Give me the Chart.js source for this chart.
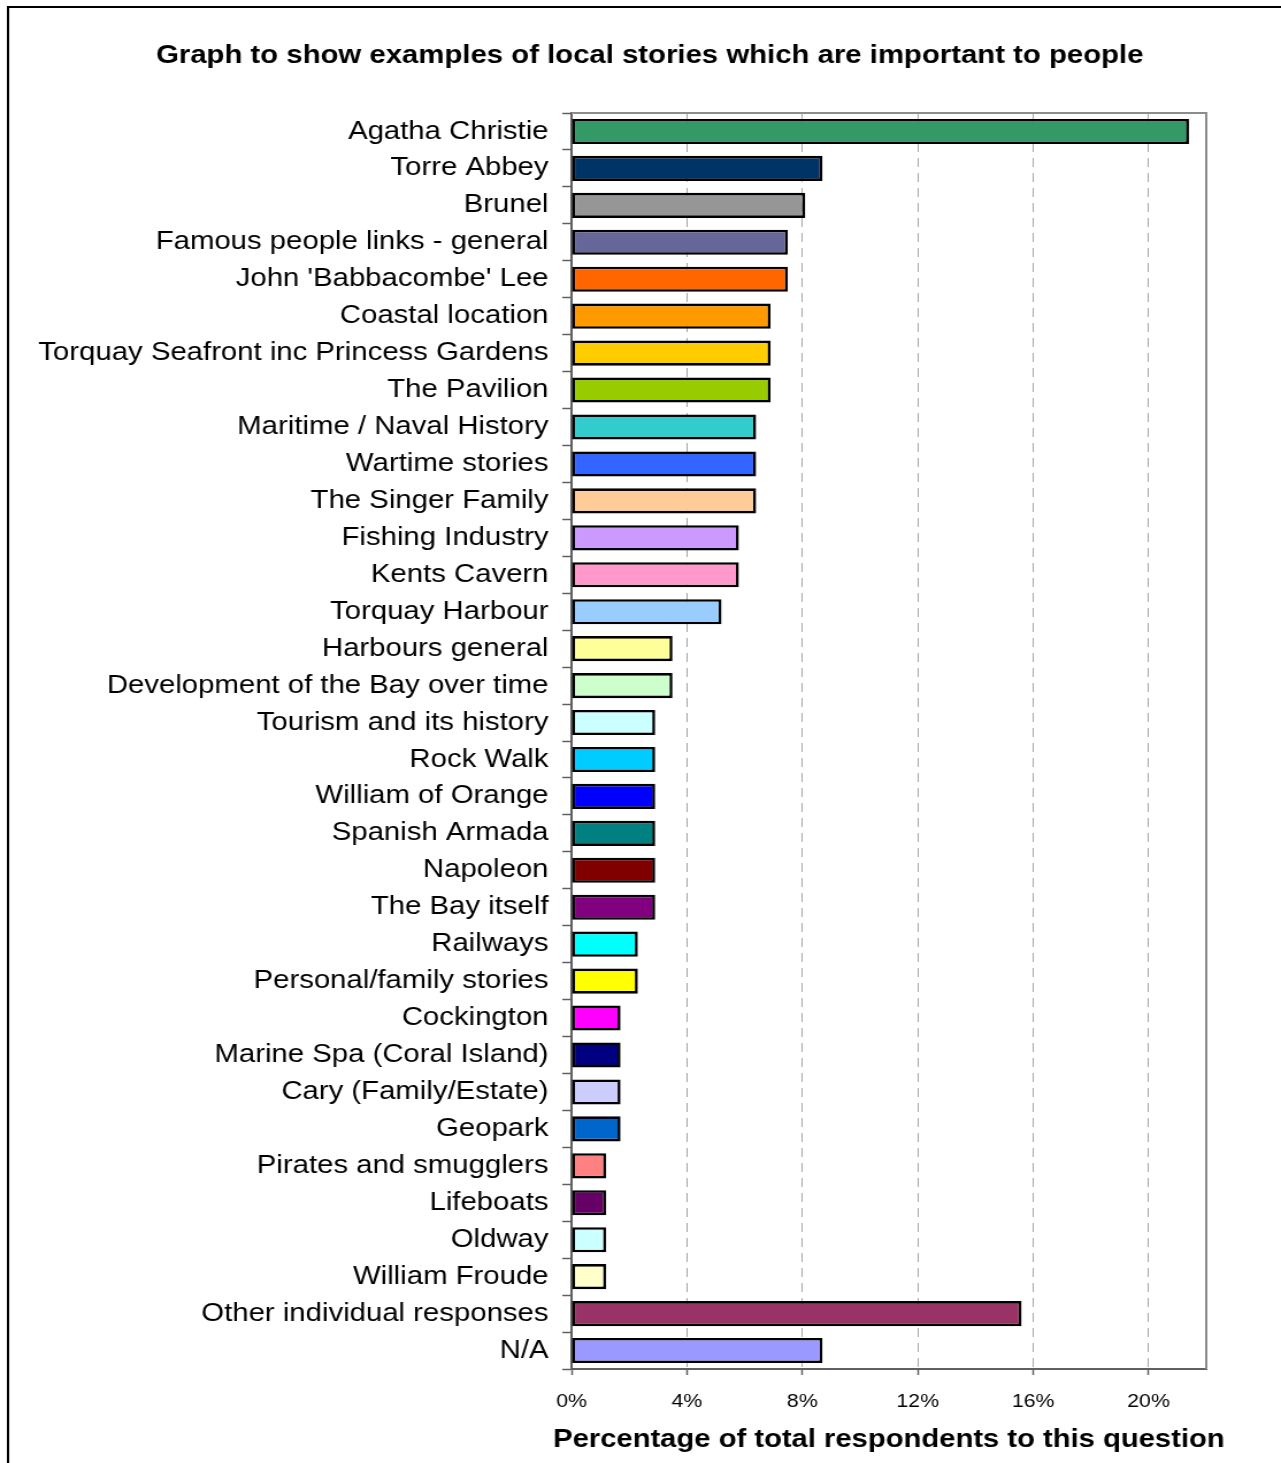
<!DOCTYPE html>
<html>
<head>
<meta charset="utf-8">
<title>Local stories</title>
<script src="https://cdn.jsdelivr.net/npm/chart.js@4/dist/chart.umd.min.js"></script>
<style>
  html, body { margin: 0; padding: 0; background: #fff; overflow: hidden; }
  #grafico { position: absolute; left: 0; top: 0; }
</style>
</head>
<body>
<!-- the original picture is a bit stretched sideways, so the canvas is drawn narrower and stretched -->
<canvas id="grafico" width="1114" height="1463" style="width:1281px;height:1463px"></canvas>
<script>
// Dados do gráfico
const categorias = [
  'Agatha Christie', 'Torre Abbey', 'Brunel', 'Famous people links - general',
  "John 'Babbacombe' Lee", 'Coastal location', 'Torquay Seafront inc Princess Gardens',
  'The Pavilion', 'Maritime / Naval History', 'Wartime stories', 'The Singer Family',
  'Fishing Industry', 'Kents Cavern', 'Torquay Harbour', 'Harbours general',
  'Development of the Bay over time', 'Tourism and its history', 'Rock Walk',
  'William of Orange', 'Spanish Armada', 'Napoleon', 'The Bay itself', 'Railways',
  'Personal/family stories', 'Cockington', 'Marine Spa (Coral Island)',
  'Cary (Family/Estate)', 'Geopark', 'Pirates and smugglers', 'Lifeboats', 'Oldway',
  'William Froude', 'Other individual responses', 'N/A'
];

const percentuais = [
  21.4, 8.7, 8.1, 7.5, 7.5, 6.9, 6.9, 6.9, 6.4, 6.4, 6.4, 5.8, 5.8, 5.2, 3.5, 3.5,
  2.9, 2.9, 2.9, 2.9, 2.9, 2.9, 2.3, 2.3, 1.7, 1.7, 1.7, 1.7, 1.2, 1.2, 1.2, 1.2,
  15.6, 8.7
];

const cores = [
  '#339966', '#003366', '#969696', '#666699', '#FF6600', '#FF9900', '#FFCC00', '#99CC00',
  '#33CCCC', '#3366FF', '#FFCC99', '#CC99FF', '#FF99CC', '#99CCFF', '#FFFF99', '#CCFFCC',
  '#CCFFFF', '#00CCFF', '#0000FF', '#008080', '#800000', '#800080', '#00FFFF', '#FFFF00',
  '#FF00FF', '#000080', '#CCCCFF', '#0066CC', '#FF8080', '#660066', '#CCFFFF', '#FFFFCC',
  '#993366', '#9999FF'
];

const ticksX = [0, 4, 8, 12, 16, 20];

const tituloGrafico = 'Graph to show examples of local stories which are important to people';
const tituloEixoX = 'Percentage of total respondents to this question';

const fonte = '"Liberation Sans", Arial, sans-serif';

// Moldura externa, títulos e borda da área do gráfico
const molduraPlugin = {
  id: 'moldura',
  beforeDatasetsDraw(chart) {
    const ctx = chart.ctx;
    const area = chart.chartArea;
    ctx.save();
    ctx.strokeStyle = '#8c8c8c';
    ctx.lineWidth = 2;
    ctx.beginPath();
    ctx.moveTo(area.left, area.top);
    ctx.lineTo(area.right, area.top);
    ctx.lineTo(area.right, area.bottom);
    ctx.stroke();
    ctx.restore();
  },
  afterDraw(chart) {
    const ctx = chart.ctx;
    const area = chart.chartArea;
    ctx.save();
    ctx.strokeStyle = '#000';
    ctx.lineWidth = 2;
    ctx.beginPath();
    ctx.moveTo(7, chart.height + 10);
    ctx.lineTo(7, 7);
    ctx.lineTo(chart.width + 10, 7);
    ctx.stroke();

    ctx.fillStyle = '#000';
    ctx.textAlign = 'center';
    ctx.font = 'bold 25.5px ' + fonte;
    ctx.textBaseline = 'alphabetic';
    ctx.fillText(tituloGrafico, 565, 63);

    // título do eixo x, centrado sob a área do gráfico
    ctx.font = 'bold 25.4px ' + fonte;
    ctx.textBaseline = 'middle';
    ctx.fillText(tituloEixoX, (area.left + area.right) / 2, 1440);
    ctx.restore();
  }
};

const ctx = document.getElementById('grafico').getContext('2d');
const grafico = new Chart(ctx, {
  type: 'bar',
  data: {
    labels: categorias,
    datasets: [{
      data: percentuais,
      backgroundColor: cores,
      borderColor: '#000',
      borderWidth: 2.6,
      borderSkipped: false,
      categoryPercentage: 1,
      barPercentage: 0.68
    }]
  },
  options: {
    indexAxis: 'y',
    responsive: false,
    animation: false,
    devicePixelRatio: 1,
    layout: {
      padding: { top: 113, right: 65, bottom: 0, left: 0 }
    },
    plugins: {
      legend: { display: false },
      title: { display: false },
      tooltip: { enabled: false }
    },
    scales: {
      x: {
        position: 'bottom',
        min: 0,
        max: 22,
        afterBuildTicks: (scale) => {
          scale.ticks = ticksX.map(v => ({ value: v }));
        },
        afterFit: (scale) => { scale.height = 94; },
        ticks: {
          stepSize: 4,
          includeBounds: false,
          padding: 16,
          color: '#000',
          font: { family: fonte, size: 18.5 },
          callback: (v) => v + '%'
        },
        grid: {
          color: (c) => (c.tick && c.tick.value === 0) ? 'rgba(0,0,0,0)' : '#a6a6a6',
          lineWidth: 1,
          drawTicks: true,
          tickLength: 6,
          tickColor: '#606060',
          tickWidth: 1.5
        },
        border: { display: true, color: '#606060', width: 2, dash: [9, 6] },
        title: { display: false }
      },
      y: {
        afterFit: (scale) => { scale.width = 497; },
        ticks: {
          padding: 12,
          color: '#000',
          autoSkip: false,
          font: { family: fonte, size: 25.5 }
        },
        grid: {
          drawOnChartArea: false,
          drawTicks: true,
          tickLength: 8,
          tickColor: '#606060',
          tickWidth: 1.5
        },
        border: { display: true, color: '#606060', width: 2 }
      }
    }
  },
  plugins: [molduraPlugin]
});
</script>
</body>
</html>
